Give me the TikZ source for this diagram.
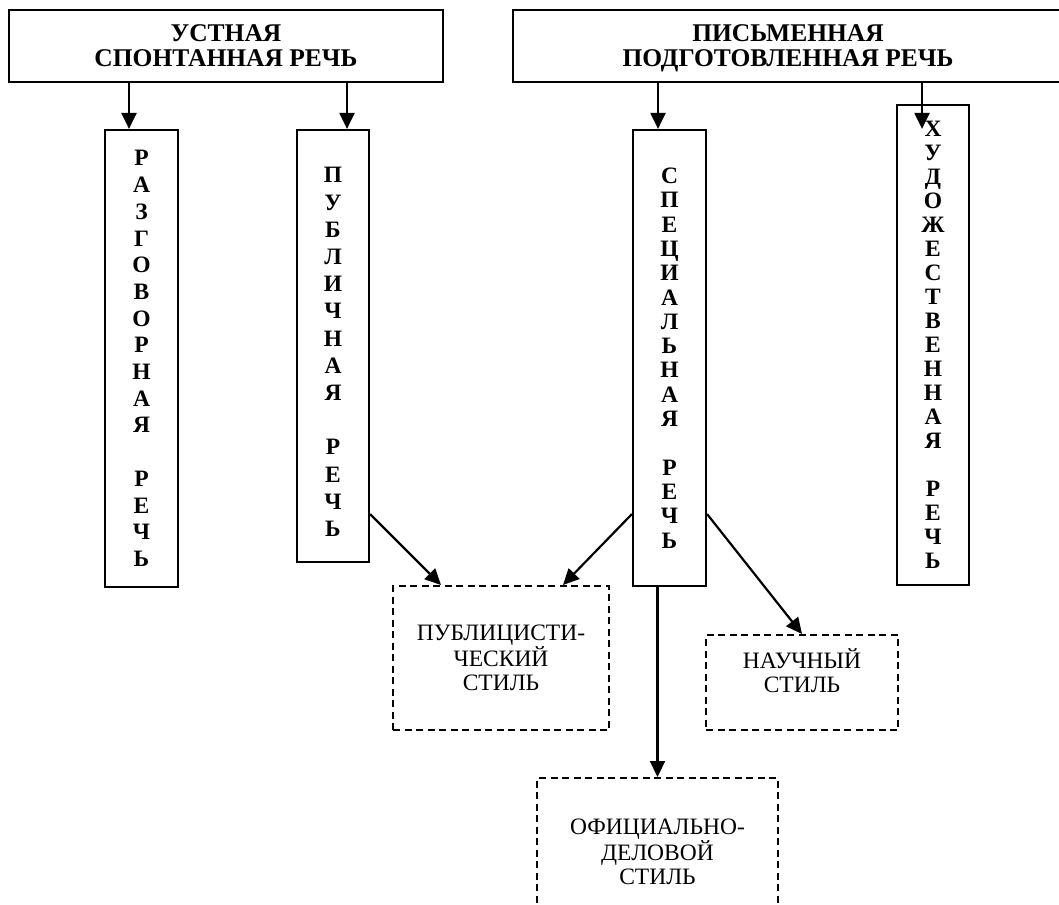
\documentclass[tikz,border=0pt]{standalone}
\usepackage{fontspec}
\setmainfont{Liberation Serif}
\usepackage{tikz}
\usetikzlibrary{arrows.meta}

\tikzset{
	topbox/.style={draw, line width=2.2pt, minimum height=72pt, align=center, inner sep=0pt,
		text depth=0pt, font=\bfseries\fontsize{25.5}{25}\selectfont},
	vbox/.style={draw, line width=2.2pt, minimum width=73pt, align=center,
		font=\bfseries\fontsize{23.5}{#1}\selectfont},
	vbox/.default=27,
	stylebox/.style={draw, line width=2pt, dash pattern=on 7pt off 4.5pt, align=center,
		font=\fontsize{23.5}{23.5}\selectfont},
	arr/.style={line width=2.2pt, -{Triangle[length=16pt,width=15pt]}}
}

\begin{document}
\begin{tikzpicture}[x=1pt,y=-1pt]
			\useasboundingbox (0,0) rectangle (1059,904);
			\clip (0,0) rectangle (1059,904);
			
			% two kinds of speech
			\node[topbox, minimum width=434pt] (ustn) at (226,46) {УСТНАЯ\\СПОНТАННАЯ РЕЧЬ};
			\node[topbox, minimum width=550pt] (pism) at (788,46) {ПИСЬМЕННАЯ\\ПОДГОТОВЛЕННАЯ РЕЧЬ};
			
			% vertical boxes
			\node[vbox=26.7, minimum height=457pt] (razg) at (141.5,358.5)
			{Р\\А\\З\\Г\\О\\В\\О\\Р\\Н\\А\\Я\\\mbox{}\\Р\\Е\\Ч\\Ь};
			\node[vbox=27.2, minimum height=432pt, minimum width=72pt] (publ) at (333,346)
			{\mbox{}\\П\\У\\Б\\Л\\И\\Ч\\Н\\А\\Я\\\mbox{}\\Р\\Е\\Ч\\Ь};
			\node[vbox=24.3, minimum height=456pt] (spec) at (669.5,358)
			{С\\П\\Е\\Ц\\И\\А\\Л\\Ь\\Н\\А\\Я\\\mbox{}\\Р\\Е\\Ч\\Ь};
			\node[vbox=24, minimum height=480pt, minimum width=72pt] (hud) at (933,345)
			{Х\\У\\Д\\О\\Ж\\Е\\С\\Т\\В\\Е\\Н\\Н\\А\\Я\\\mbox{}\\Р\\Е\\Ч\\Ь};
			
			% styles
			\node[stylebox, minimum width=216pt, minimum height=144pt] (publst) at (501,658)
			{ПУБЛИЦИСТИ-\\ЧЕСКИЙ\\СТИЛЬ};
			\node[stylebox, minimum width=192pt, minimum height=95pt] (nauch) at (802,682.5)
			{НАУЧНЫЙ\\СТИЛЬ\\\mbox{}};
			\node[stylebox, minimum width=241pt, minimum height=148pt] (ofic) at (657.5,852)
			{ОФИЦИАЛЬНО-\\ДЕЛОВОЙ\\СТИЛЬ};
			
			\draw[arr] ([xshift=-12.5pt]ustn.south -| razg.north) -- ([xshift=-12.5pt]razg.north);
			\draw[arr] ([xshift=14pt]ustn.south -| publ.north) -- ([xshift=14pt]publ.north);
			\draw[arr] ([xshift=-11.5pt]pism.south -| spec.north) -- ([xshift=-11.5pt]spec.north);
			\draw[arr] ([xshift=-11pt]pism.south -| hud.north) -- ([xshift=-11pt,yshift=-25pt]hud.north);
			
			\draw[arr] ([yshift=49pt]publ.south east) -- ([xshift=-60pt]publst.north);
			\draw[arr] ([yshift=73pt]spec.south west) -- ([xshift=62pt]publst.north);
			\draw[arr] ([yshift=73pt]spec.south east) -- (nauch.north);
			\draw[arr] ([xshift=-12pt]spec.south) -- (ofic.north);
		\end{tikzpicture}
\end{document}
